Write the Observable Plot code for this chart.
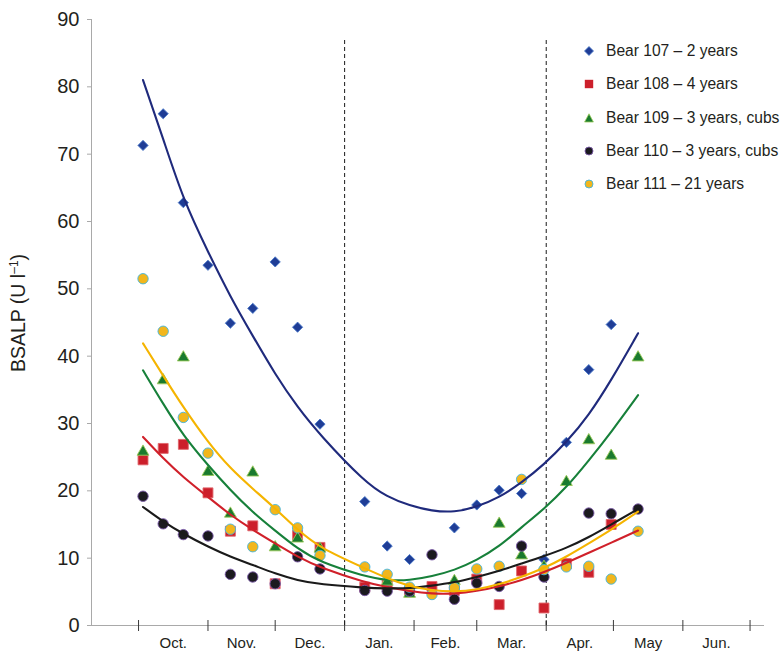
<!DOCTYPE html>
<html><head><meta charset="utf-8">
<script src="https://cdn.jsdelivr.net/npm/d3@7"></script>
<script src="https://cdn.jsdelivr.net/npm/@observablehq/plot@0.6"></script>
<style>
html,body{margin:0;padding:0;background:#fff;overflow:hidden;}
#wrap{position:relative;width:781px;height:651px;overflow:hidden;font-family:"Liberation Sans",Arial,sans-serif;}
#legend{position:absolute;left:0;top:0;}
.row{position:absolute;display:flex;align-items:center;white-space:nowrap;font-size:15.6px;color:#231f20;height:20px;}
.row svg{display:block;}
</style></head><body><div id="wrap"></div>
<script>
// ---------- data ----------
const monthLabels = ["Oct.","Nov.","Dec.","Jan.","Feb.","Mar.","Apr.","May","Jun."];
const monthStarts = ["2009-10-01","2009-11-01","2009-12-01","2010-01-01","2010-02-01","2010-03-01","2010-04-01","2010-05-01","2010-06-01","2010-07-01"];
const xDomain = ["2009-09-10","2010-07-07"];
const yTicks = [0,10,20,30,40,50,60,70,80,90];
const dividers = ["2010-01-01","2010-04-01"];
const dividerTop = 87.3;

const sampleDates = ["2009-10-03","2009-10-12","2009-10-21","2009-11-01","2009-11-11","2009-11-21","2009-12-01","2009-12-11","2009-12-21","2010-01-10","2010-01-20","2010-01-30","2010-02-09","2010-02-19","2010-03-01","2010-03-11","2010-03-21","2010-03-31","2010-04-10","2010-04-20","2010-04-30","2010-05-12"];

const bearNames = ["Bear 107 – 2 years","Bear 108 – 4 years","Bear 109 – 3 years, cubs","Bear 110 – 3 years, cubs","Bear 111 – 21 years"];

const bear107 = [71.3, 76.0, 62.8, 53.5, 44.9, 47.1, 54.0, 44.3, 29.9, 18.4, 11.8, 9.8, null, 14.5, 17.9, 20.1, 19.6, 9.8, 27.2, 38.0, 44.7, null];
const bear108 = [24.6, 26.3, 26.9, 19.7, 14.0, 14.8, 6.2, 13.4, 11.6, 5.7, 6.0, 5.0, 5.8, 5.2, 6.9, 3.1, 8.1, 2.6, 9.2, 7.9, 15.0, null];
const bear109 = [25.8, 36.4, 39.8, 22.8, 16.6, 22.7, 11.6, 12.9, 11.4, null, 6.5, 4.7, null, 6.6, null, 15.1, 10.4, 8.7, 21.3, 27.5, 25.2, 39.8];
const bear110 = [19.2, 15.1, 13.5, 13.3, 7.6, 7.2, 6.2, 10.2, 8.4, 5.2, 5.1, 5.1, 10.5, 3.9, 6.3, 5.8, 11.8, 7.2, null, 16.7, 16.6, 17.3];
const bear111 = [51.5, 43.7, 30.9, 25.6, 14.3, 11.7, 17.2, 14.5, 10.4, 8.7, 7.6, 5.7, 4.6, 5.6, 8.4, 8.8, 21.7, 8.3, 8.7, 8.8, 6.9, 14.0];

// trend lines (values at each sample date)
const trend107 = [81.0, 72.3, 63.2, 55.5, 48.8, 43.0, 37.3, 32.4, 28.3, 21.3, 19.1, 17.8, 17.0, 16.8, 17.6, 19.0, 21.2, 23.9, 27.2, 31.2, 36.4, 43.4];
const trend108 = [28.0, 24.8, 22.0, 19.1, 16.4, 14.2, 12.2, 10.2, 8.6, 6.4, 5.7, 5.1, 4.7, 4.7, 5.1, 5.8, 6.7, 7.9, 9.3, 10.8, 12.3, 14.1];
const trend109 = [37.9, 32.9, 28.2, 23.8, 20.1, 16.8, 14.1, 11.4, 9.4, 7.3, 6.7, 6.7, 7.3, 8.2, 9.7, 11.7, 14.6, 17.3, 20.5, 24.5, 28.7, 34.2];
const trend110 = [17.6, 15.4, 13.6, 11.7, 10.2, 9.0, 7.7, 6.7, 6.1, 5.6, 5.5, 5.5, 5.9, 6.4, 7.2, 8.1, 9.2, 10.3, 11.5, 13.1, 15.0, 17.3];
const trend111 = [41.9, 37.1, 32.4, 27.2, 23.3, 20.3, 17.4, 14.2, 11.5, 8.5, 7.0, 5.8, 5.2, 5.0, 5.3, 6.1, 7.2, 8.5, 10.2, 12.2, 14.2, 16.9];

// ---------- styles ----------
const series = [
  {vals: bear107, trend: trend107, symbol: "diamond2", r: 4.6, fill: "#1f3d96", stroke: "#4a78c8", line: "#1f2a7c"},
  {vals: bear108, trend: trend108, symbol: "square",   r: 5.6, fill: "#cc1f2b", stroke: "#e0656b", line: "#d0202a"},
  {vals: bear109, trend: trend109, symbol: "triangle", r: 4.4, fill: "#1a7a2e", stroke: "#9ccb5a", line: "#17803a"},
  {vals: bear110, trend: trend110, symbol: "circle",   r: 5.2, fill: "#1b1a1f", stroke: "#7a5aa8", line: "#1a1a1a"},
  {vals: bear111, trend: trend111, symbol: "circle",   r: 5.2, fill: "#f2b61c", stroke: "#3fb4e0", line: "#f5b400"}
];

const parse = d3.utcParse("%Y-%m-%d");
const toRows = arr => sampleDates.map((d, i) => ({date: parse(d), v: arr[i]})).filter(d => d.v != null);
const midMonths = monthStarts.slice(0, -1).map((d, i) => {
  const a = parse(d), b = parse(monthStarts[i + 1]);
  return new Date((+a + +b) / 2);
});

const dotMarks = series.map(s => Plot.dot(toRows(s.vals), {
  x: "date", y: "v", symbol: () => s.symbol, r: s.r, fill: s.fill, stroke: s.stroke, strokeWidth: 0.9
}));
const lineMarks = series.map(s => Plot.line(toRows(s.trend), {
  x: "date", y: "v", stroke: s.line, strokeWidth: 2.1, curve: "basis"
}));

const chart = Plot.plot({
  width: 781, height: 651,
  marginLeft: 91, marginRight: 18, marginTop: 19, marginBottom: 26,
  style: {fontFamily: "'Liberation Sans', Arial, sans-serif", color: "#231f20", background: "#fff", overflow: "visible"},
  x: {type: "utc", domain: xDomain.map(parse)},
  y: {domain: [0, 90]},
  symbol: {type: "identity"},
  marks: [
    Plot.frame({anchor: "left", stroke: "#a9a9a9"}),
    Plot.frame({anchor: "bottom", stroke: "#a9a9a9"}),
    Plot.axisY(yTicks, {tickSize: 4, tickPadding: 8, fontSize: 20, stroke: "#a9a9a9", label: null, fill: "#231f20"}),
    Plot.axisX(monthStarts.map(parse), {tickSize: 11, dy: -5, tickFormat: () => "", stroke: "#3a3a3a", label: null}),
    Plot.axisX(midMonths, {tickSize: 0, tickPadding: 12, fontSize: 15, tickFormat: (d, i) => monthLabels[i], label: null, fill: "#231f20"}),
    Plot.ruleX(dividers.map(parse), {y1: 0, y2: dividerTop, stroke: "#1a1a1a", strokeWidth: 1, strokeDasharray: "4,3"}),
    ...dotMarks,
    ...lineMarks
  ]
});

const wrap = document.getElementById("wrap");
wrap.appendChild(chart);

// y axis title with superscript
const svg = d3.select(chart);
const t = svg.append("text")
  .attr("transform", "translate(25,313) rotate(-90)")
  .attr("text-anchor", "middle")
  .attr("font-size", 19.5)
  .attr("fill", "#231f20");
t.append("tspan").text("BSALP (U l");
t.append("tspan").attr("font-size", 12).attr("dy", -7).text("–1");
t.append("tspan").attr("dy", 7).text(")");

// legend
const legend = document.createElement("div");
legend.id = "legend";
wrap.appendChild(legend);
const legendShapes = [
  `<path d="M5,0.5 L9.5,5 L5,9.5 L0.5,5 Z" fill="#1f3d96" stroke="#4a78c8" stroke-width="0.8"/>`,
  `<rect x="0.8" y="0.8" width="8.4" height="8.4" fill="#cc1f2b"/>`,
  `<path d="M5,0.8 L9.4,9 L0.6,9 Z" fill="#1a7a2e" stroke="#9ccb5a" stroke-width="0.8"/>`,
  `<circle cx="5" cy="5" r="4" fill="#1b1a1f" stroke="#7a5aa8" stroke-width="0.9"/>`,
  `<circle cx="5" cy="5" r="4" fill="#f2b61c" stroke="#3fb4e0" stroke-width="0.9"/>`
];
bearNames.forEach((name, i) => {
  const row = document.createElement("div");
  row.className = "row";
  row.style.left = "584px";
  row.style.top = (41 + i * 33.3) + "px";
  row.innerHTML = `<svg width="10" height="10" viewBox="0 0 10 10">${legendShapes[i]}</svg><span style="margin-left:12px">${name}</span>`;
  legend.appendChild(row);
});
</script>
</body></html>
